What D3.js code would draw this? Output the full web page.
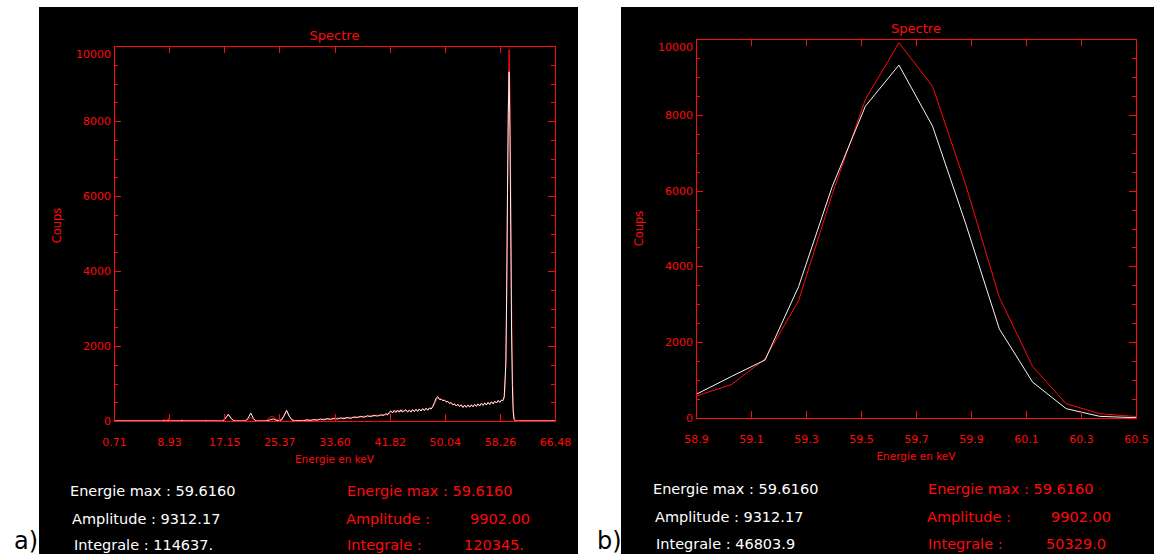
<!DOCTYPE html>
<html>
<head>
<meta charset="utf-8">
<script src="https://cdn.jsdelivr.net/npm/d3@7"></script>
<style>
  body { margin: 0; background: #fff; }
  svg text { font-family: 'DejaVu Sans', sans-serif; }
</style>
</head>
<body>
<svg id="chart" width="1154" height="554"></svg>
<script>
// spectrum below the 59.6 keV line (keV / counts)
const energyLow = [0.71, 7.8, 8.0, 8.2, 8.4, 8.6, 8.9, 9.1, 10.6, 10.85, 11.1, 14.2, 14.4, 14.6,
  16.9, 17.3, 17.75, 18.2, 18.6, 20.3, 20.7, 21.1, 21.5, 21.9, 23.4, 23.8, 24.1, 24.5, 24.9, 25.3,
  25.7, 26.05, 26.45, 26.85, 27.25, 27.6, 28.2, 28.6,
  29.0, 29.5, 30.0, 30.5, 31.0, 31.5, 32.0, 32.5, 33.0, 33.5, 34.0, 34.5, 35.0, 35.5, 36.0, 36.5,
  37.0, 37.5, 38.0, 38.5, 39.0, 39.5, 40.0, 40.5, 41.0,
  41.25, 41.5, 41.75, 42.0, 42.25, 42.5, 42.75, 43.0, 43.25, 43.5, 43.75, 44.0,
  44.25, 44.5, 44.75, 45.0, 45.25, 45.5, 45.75, 46.0, 46.25, 46.5, 46.75, 47.0,
  47.25, 47.5, 47.75, 48.0, 48.25, 48.5, 48.75, 49.0, 49.25, 49.5, 49.75, 50.0,
  50.25, 50.5, 50.75, 51.0, 51.25, 51.5, 51.75, 52.0, 52.25, 52.5, 52.75, 53.0,
  53.25, 53.5, 53.75, 54.0, 54.25, 54.5, 54.75, 55.0, 55.25, 55.5, 55.75, 56.0,
  56.25, 56.5, 56.75, 57.0, 57.25, 57.5, 57.75, 58.0, 58.25, 58.5, 58.7];
const whiteLow = [0, 0, 0, 10, 0, 0, 15, 0, 0, 10, 0, 0, 5, 0,
  0, 60, 180, 60, 0, 0, 70, 215, 70, 0, 0, 20, 40, 55, 20, 10,
  30, 130, 285, 130, 30, 0, 10, 5,
  5, 35, 10, 40, 20, 55, 30, 65, 40, 75, 50, 85, 60, 95, 70, 110,
  90, 125, 100, 140, 115, 155, 130, 165, 150,
  200, 160, 230, 270, 215, 285, 230, 290, 235, 300, 240, 275,
  300, 235, 290, 235, 305, 250, 310, 255, 320, 265, 330, 275,
  340, 285, 345, 320, 390, 490, 610, 650, 575, 580, 545, 555,
  510, 520, 470, 490, 430, 455, 400, 445, 385, 430, 360, 420,
  365, 425, 370, 430, 380, 440, 390, 455, 400, 470, 415, 480,
  425, 495, 440, 510, 455, 525, 480, 545, 495, 555, 540];
const redLow = [0, 0, 45, 10, 40, 0, 70, 0, 0, 30, 0, 0, 20, 0,
  0, 80, 170, 80, 10, 0, 45, 95, 45, 0, 0, 80, 115, 110, 40, 20,
  50, 150, 270, 120, 40, 15, 0, 15,
  25, 10, 35, 15, 50, 25, 60, 35, 70, 45, 80, 55, 95, 65, 105, 80,
  120, 95, 135, 110, 150, 125, 160, 140, 175,
  160, 210, 185, 250, 270, 225, 285, 235, 295, 240, 290, 250,
  290, 245, 300, 250, 305, 260, 315, 265, 325, 275, 330, 285,
  345, 295, 350, 330, 370, 440, 540, 620, 600, 590, 545, 565,
  505, 530, 460, 500, 425, 465, 395, 450, 380, 440, 370, 425,
  375, 435, 380, 440, 385, 450, 400, 465, 410, 480, 425, 490,
  435, 505, 450, 520, 470, 535, 485, 555, 505, 560, 550];

// the 59.6 keV line itself
const energyPeak = [58.908, 59.030, 59.151, 59.273, 59.395, 59.516, 59.638,
  59.760, 59.881, 60.003, 60.124, 60.246, 60.368, 60.489];
const whitePeak = [652, 1100, 1530, 3465, 6100, 8228, 9312, 7702, 5120, 2351, 947, 246, 44, 10];
const redPeak = [596, 886, 1561, 3096, 5900, 8404, 9902, 8754, 6150, 3184, 1360, 377, 114, 44];

// above the line
const energyTail = [60.61, 60.73, 61.0, 66.48];
const whiteTail = [0, 0, 0, 0];
const redTail = [25, 0, 0, 0];

const yTicks = [0, 2000, 4000, 6000, 8000, 10000];
const xTicksA = [0.71, 8.93, 17.15, 25.37, 33.60, 41.82, 50.04, 58.26, 66.48];
const xLabelsA = ['0.71', '8.93', '17.15', '25.37', '33.60', '41.82', '50.04', '58.26', '66.48'];
const xTicksB = [58.9, 59.1, 59.3, 59.5, 59.7, 59.9, 60.1, 60.3, 60.5];
const xLabelsB = ['58.9', '59.1', '59.3', '59.5', '59.7', '59.9', '60.1', '60.3', '60.5'];

const statsWhiteA = ['Energie max : 59.6160', 'Amplitude : 9312.17', 'Integrale : 114637.'];
const statsWhiteB = ['Energie max : 59.6160', 'Amplitude : 9312.17', 'Integrale : 46803.9'];
const statsRedLabels = ['Energie max : 59.6160', 'Amplitude :', 'Integrale :'];
const statsRedA = ['', '9902.00', '120345.'];
const statsRedB = ['', '9902.00', '50329.0'];

const energyAll = energyLow.concat(energyPeak, energyTail);
const whiteAll = whiteLow.concat(whitePeak, whiteTail);
const redAll = redLow.concat(redPeak, redTail);

const RED = '#ff0a0a';
const svg = d3.select('#chart');

function drawPanel(cfg) {
  const g = svg.append('g');
  g.append('rect')
    .attr('x', cfg.bgLeft).attr('y', 7)
    .attr('width', cfg.bgRight - cfg.bgLeft).attr('height', 547)
    .attr('fill', '#000');

  const x = d3.scaleLinear().domain(cfg.xDomain).range([cfg.left, cfg.right]);
  const y = d3.scaleLinear().domain([0, 10000]).range([cfg.bottom, cfg.top]);

  const clipId = `clip-${cfg.id}`;
  g.append('clipPath').attr('id', clipId)
    .append('rect')
    .attr('x', cfg.left).attr('y', cfg.top - 2)
    .attr('width', cfg.right - cfg.left).attr('height', cfg.bottom - cfg.top + 3);

  const line = (vals) => d3.line()
    .x((d, i) => x(energyAll[i]))
    .y((d) => y(d))(vals);

  const curves = g.append('g').attr('clip-path', `url(#${clipId})`);
  curves.append('path').attr('d', line(redAll))
    .attr('fill', 'none').attr('stroke', RED).attr('stroke-width', 1);
  curves.append('path').attr('d', line(whiteAll))
    .attr('fill', 'none').attr('stroke', '#f4f4f4').attr('stroke-width', 1);

  const styleAxis = (sel) => {
    sel.select('.domain').remove();
    sel.selectAll('line').attr('stroke', RED).attr('shape-rendering', 'crispEdges');
    sel.selectAll('text').attr('fill', RED).attr('font-size', 11)
      .attr('font-family', "'DejaVu Sans', sans-serif");
  };

  // bottom + top x axes
  g.append('g').attr('transform', `translate(0,${cfg.bottom})`)
    .call(d3.axisBottom(x).tickValues(cfg.xTicks).tickSize(-7).tickPadding(17)
      .tickFormat((d, i) => cfg.xLabels[i]))
    .call(styleAxis);
  g.append('g').attr('transform', `translate(0,${cfg.top})`)
    .call(d3.axisTop(x).tickValues(cfg.xTicks).tickSize(-7).tickFormat(''))
    .call(styleAxis);

  // left + right y axes, majors then minors
  const yLeft = g.append('g').attr('transform', `translate(${cfg.left},0)`)
    .call(d3.axisLeft(y).tickValues(yTicks).tickSize(-7).tickPadding(3).tickFormat(d3.format('d')))
    .call(styleAxis);
  yLeft.selectAll('.tick').filter((d) => d === 10000).select('text').attr('y', 8);
  g.append('g').attr('transform', `translate(${cfg.left},0)`)
    .call(d3.axisLeft(y).tickValues(y.ticks(20)).tickSize(-4).tickFormat(''))
    .call(styleAxis);
  g.append('g').attr('transform', `translate(${cfg.right},0)`)
    .call(d3.axisRight(y).tickValues(yTicks).tickSize(-7).tickFormat(''))
    .call(styleAxis);
  g.append('g').attr('transform', `translate(${cfg.right},0)`)
    .call(d3.axisRight(y).tickValues(y.ticks(20)).tickSize(-4).tickFormat(''))
    .call(styleAxis);

  g.append('rect')
    .attr('x', cfg.left + 0.5).attr('y', cfg.top + 0.5)
    .attr('width', cfg.right - cfg.left).attr('height', cfg.bottom - cfg.top)
    .attr('fill', 'none').attr('stroke', RED).attr('stroke-width', 1);

  const mid = (cfg.left + cfg.right) / 2;
  g.append('text').attr('x', mid).attr('y', cfg.top - 6)
    .attr('text-anchor', 'middle').attr('font-size', 13).attr('fill', RED)
    .text('Spectre');
  g.append('text').attr('x', mid).attr('y', cfg.bottom + 42)
    .attr('text-anchor', 'middle').attr('font-size', 10.5).attr('fill', RED)
    .text('Energie en keV');
  g.append('text')
    .attr('transform', `translate(${cfg.left - 53},${(cfg.top + cfg.bottom) / 2 + cfg.coupsDy}) rotate(-90)`)
    .attr('text-anchor', 'middle').attr('font-size', 11.5).attr('fill', RED)
    .text('Coups');

  // statistics block under the plot
  cfg.statsWhite.forEach((t, i) => {
    g.append('text').attr('x', cfg.whiteX[i]).attr('y', cfg.rowY[i])
      .attr('font-size', 14.5).attr('fill', '#fff').text(t);
  });
  statsRedLabels.forEach((t, i) => {
    g.append('text').attr('x', cfg.redX[i]).attr('y', cfg.rowY[i])
      .attr('font-size', 14.5).attr('fill', RED).text(t);
    if (cfg.statsRed[i]) {
      g.append('text').attr('x', cfg.redValX[i]).attr('y', cfg.rowY[i])
        .attr('font-size', 14.5).attr('fill', RED).text(cfg.statsRed[i]);
    }
  });

  svg.append('text').attr('x', cfg.tagX).attr('y', 549)
    .attr('font-family', "'Liberation Serif', serif").attr('font-size', 24)
    .attr('fill', '#000').text(cfg.tag);
}

drawPanel({
  id: 'a', tag: 'a)', tagX: 14, coupsDy: -8,
  bgLeft: 39, bgRight: 578,
  left: 114, right: 555, top: 46, bottom: 421,
  xDomain: [0.71, 66.48], xTicks: xTicksA, xLabels: xLabelsA,
  statsWhite: statsWhiteA, statsRed: statsRedA,
  whiteX: [70, 72, 74], redX: [347, 346, 347], redValX: [0, 470, 464],
  rowY: [496, 524, 550]
});

drawPanel({
  id: 'b', tag: 'b)', tagX: 597, coupsDy: 0,
  bgLeft: 621, bgRight: 1154,
  left: 696, right: 1136, top: 39, bottom: 418,
  xDomain: [58.9, 60.5], xTicks: xTicksB, xLabels: xLabelsB,
  statsWhite: statsWhiteB, statsRed: statsRedB,
  whiteX: [653, 655, 656], redX: [928, 927, 928], redValX: [0, 1051, 1046],
  rowY: [494, 522, 549]
});
</script>
</body>
</html>
